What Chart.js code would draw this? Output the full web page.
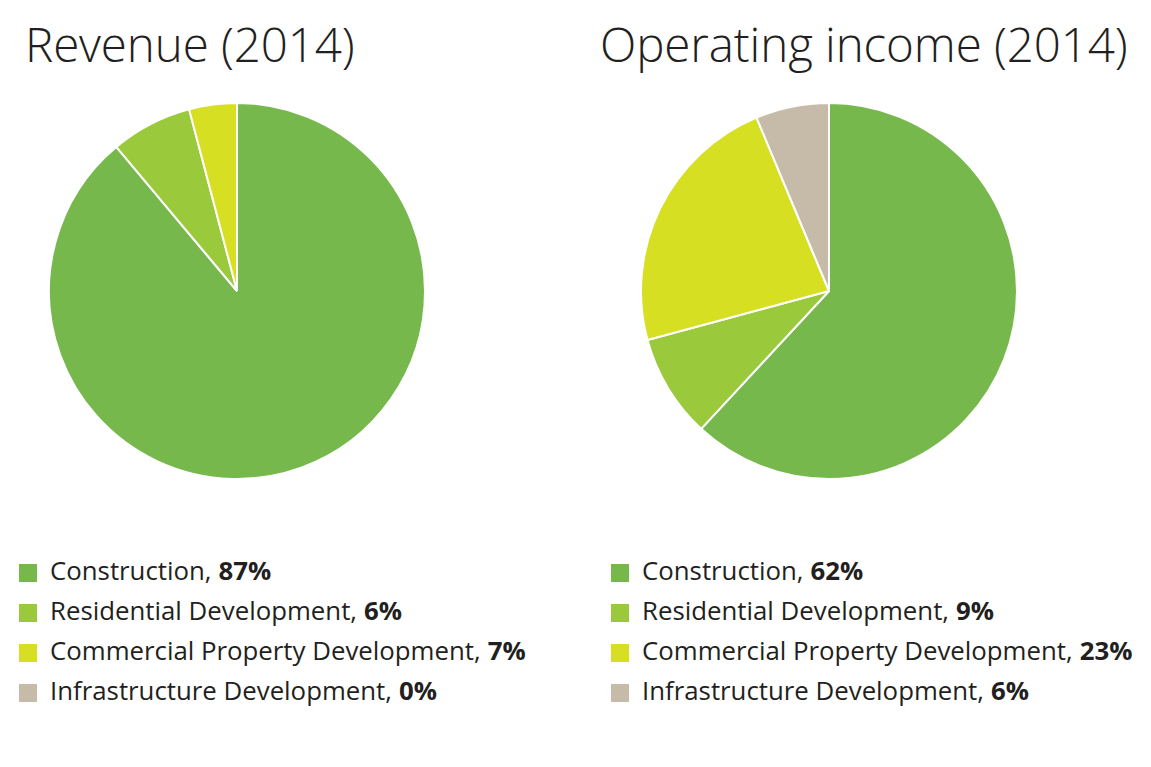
<!DOCTYPE html>
<html><head><meta charset="utf-8">
<script src="https://cdn.jsdelivr.net/npm/chart.js@4"></script>
<style>
html,body{margin:0;padding:0;background:#fff;width:1151px;height:767px;overflow:hidden;font-family:'Open Sans',sans-serif;color:#231f20}
.title{position:absolute;font-weight:350;font-size:47.5px;line-height:60px;white-space:nowrap;letter-spacing:-0.1px}
canvas{position:absolute}
.legend{position:absolute;font-size:25.8px}
.row{height:40px;display:flex;align-items:center;white-space:nowrap}
.sw{width:18px;height:18px;margin-right:13px;flex:none;position:relative;top:3px}
.row b{font-weight:700;margin-left:7px}
</style></head><body>
<div class="title" id="t1" style="left:25px;top:14px"></div>
<div class="title" id="t2" style="left:600px;top:14px"></div>
<canvas id="c1" width="378" height="378" style="left:48px;top:102px;width:378px;height:378px"></canvas>
<canvas id="c2" width="378" height="378" style="left:640px;top:102px;width:378px;height:378px"></canvas>
<div class="legend" id="l1" style="left:19px;top:550px"></div>
<div class="legend" id="l2" style="left:611px;top:550px"></div>
<script>
const categories = ['Construction', 'Residential Development', 'Commercial Property Development', 'Infrastructure Development'];
const colors = ['#76b84b', '#9bc93c', '#d6df22', '#c6baa9'];
const titles = ['Revenue (2014)', 'Operating income (2014)'];
// slice sizes as drawn in the picture (percent)
const revenueShares = [88.9, 7.0, 4.1, 0];
const incomeShares = [61.9, 8.9, 22.9, 6.3];
// percentages printed in the legends
const revenueLabels = ['87%', '6%', '7%', '0%'];
const incomeLabels = ['62%', '9%', '23%', '6%'];

document.getElementById('t1').textContent = titles[0];
document.getElementById('t2').textContent = titles[1];

function makeLegend(id, labels) {
  const el = document.getElementById(id);
  categories.forEach((c, i) => {
    const row = document.createElement('div');
    row.className = 'row';
    const sw = document.createElement('span');
    sw.className = 'sw';
    sw.style.background = colors[i];
    const t = document.createElement('span');
    t.textContent = c + ',';
    const b = document.createElement('b');
    b.textContent = labels[i];
    row.appendChild(sw); row.appendChild(t); row.appendChild(b);
    el.appendChild(row);
  });
}
makeLegend('l1', revenueLabels);
makeLegend('l2', incomeLabels);

function makePie(id, data) {
  new Chart(document.getElementById(id), {
    type: 'pie',
    data: { labels: categories, datasets: [{ data: data, backgroundColor: colors, borderColor: '#ffffff', borderWidth: 2, hoverOffset: 0 }] },
    options: {
      responsive: false, animation: false, devicePixelRatio: 1,
      layout: { padding: 0 },
      plugins: { legend: { display: false }, tooltip: { enabled: false } }
    }
  });
}
makePie('c1', revenueShares);
makePie('c2', incomeShares);
</script>
</body></html>
